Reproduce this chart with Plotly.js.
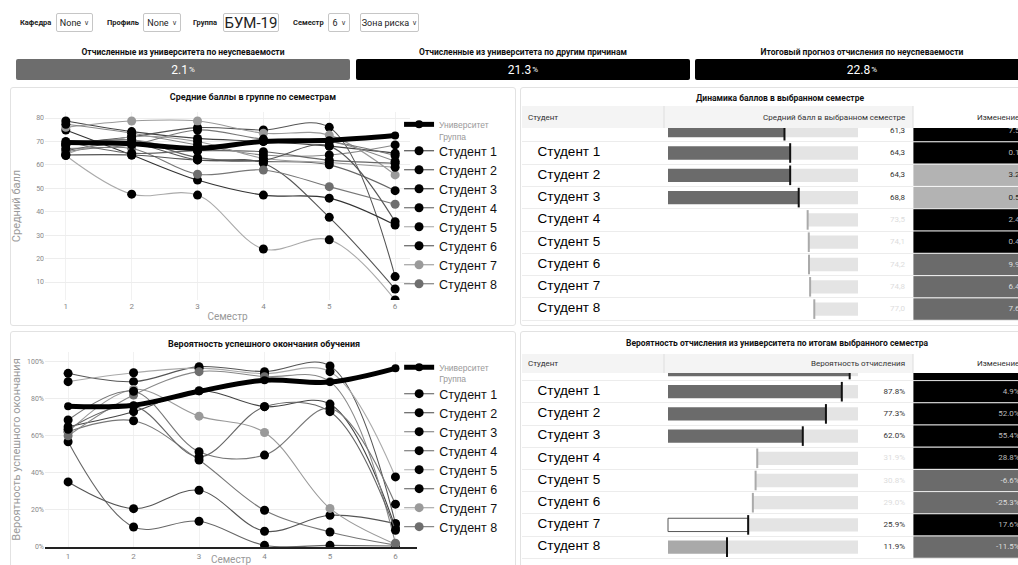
<!DOCTYPE html>
<html><head><meta charset="utf-8">
<script src="https://cdn.plot.ly/plotly-3.0.1.min.js"></script>
<style>
html,body{margin:0;padding:0}
body{width:1018px;height:565px;overflow:hidden;background:#fff;font-family:Roboto,'Liberation Sans',Arial,sans-serif;position:relative}
.abs{position:absolute}
.panel{position:absolute;border:1px solid #e2e2e2;border-radius:3px;background:#fff;box-sizing:border-box}
.lbl{position:absolute;font-size:7.5px;font-weight:bold;color:#222;display:flex;align-items:center;height:19px;top:13px}
.dd{position:absolute;top:13px;height:19px;box-sizing:border-box;border:1px solid #c6c6c6;border-radius:2px;background:#fff;font-size:9px;color:#222;display:flex;align-items:center;justify-content:center;white-space:nowrap}
.car{font-size:7px;margin-left:3px;color:#444}
.kt{position:absolute;top:47px;height:12px;font-size:8.5px;font-weight:bold;color:#111;white-space:nowrap;transform:translateX(-50%)}
.kb{position:absolute;top:59px;height:21px;color:#fff;font-size:12px;display:flex;align-items:center;justify-content:center;border-radius:2px}
.kb small{font-size:8px;margin-left:1px}
.plot{position:absolute}
</style></head><body>

<div class="lbl" style="left:20px">Кафедра</div>
<div class="dd" style="left:56px;width:37px">None<span class="car">&#x2228;</span></div>
<div class="lbl" style="left:107px">Профиль</div>
<div class="dd" style="left:143px;width:38px">None<span class="car">&#x2228;</span></div>
<div class="lbl" style="left:193px">Группа</div>
<div class="dd" style="left:223px;width:56px;font-size:15px">БУМ-19</div>
<div class="lbl" style="left:293px">Семестр</div>
<div class="dd" style="left:328px;width:22px">6<span class="car">&#x2228;</span></div>
<div class="dd" style="left:360px;width:59px">Зона риска<span class="car">&#x2228;</span></div>

<div id="kpis"></div>

<div class="panel" style="left:10px;top:87px;width:506px;height:239px"></div>
<div class="panel" style="left:520px;top:87px;width:520px;height:239px"></div>
<div class="panel" style="left:10px;top:331px;width:506px;height:240px"></div>
<div class="panel" style="left:520px;top:331px;width:520px;height:240px"></div>

<div id="scoreChart" class="plot" style="left:10px;top:87px;width:505px;height:238px"></div>
<div id="probChart" class="plot" style="left:10px;top:333px;width:505px;height:232px"></div>
<div id="scoreTable" class="plot" style="left:522px;top:87px;width:510px;height:238px"></div>
<div id="probTable" class="plot" style="left:522px;top:333px;width:510px;height:232px"></div>

<script>
// ---------------- DATA ----------------
const semesters = [1, 2, 3, 4, 5, 6];
const studentNames = ['Студент 1','Студент 2','Студент 3','Студент 4','Студент 5','Студент 6','Студент 7',
  'Студент 8','Студент 9','Студент 10','Студент 11','Студент 12','Студент 13','Студент 14'];

const kpiTitles = ['Отчисленные из университета по неуспеваемости',
  'Отчисленные из университета по другим причинам',
  'Итоговый прогноз отчисления по неуспеваемости'];
const kpiValues = [2.1, 21.3, 22.8];

// Средний балл по семестрам
const universityScore = [69.5, 69.0, 67.0, 70.0, 70.5, 72.5];
const scoreS1 = [78.7, 74.2, 71.3, 70.0, 68.0, 65.0];
const scoreS2 = [69.0, 72.0, 75.9, 74.9, 76.0, 12.3];
const scoreS3 = [74.9, 64.2, 53.5, 47.1, 45.8, 34.3];
const scoreS4 = [68.5, 70.6, 63.1, 61.5, 60.0, 49.0];
const scoreS5 = [64.0, 47.5, 47.1, 24.1, 28.0, 2.3];
const scoreS6 = [66.0, 69.0, 62.1, 60.7, 37.6, 7.0];
const scoreS7 = [76.0, 78.7, 78.7, 73.5, 72.7, 55.7];
const scoreS8 = [65.6, 67.0, 56.0, 57.8, 50.7, 43.2];
const scoreS9 = [77.3, 73.5, 68.5, 64.2, 64.2, 68.5];
const scoreS10 = [70.0, 65.0, 66.0, 65.6, 62.0, 60.7];
const scoreS11 = [67.0, 68.5, 74.9, 71.0, 70.0, 64.0];
const scoreS12 = [64.5, 72.0, 70.0, 62.8, 61.0, 59.0];
const scoreS13 = [64.2, 64.2, 62.1, 62.0, 68.0, 35.7];
const scoreS14 = [68.5, 70.6, 66.0, 70.0, 70.0, 61.5];

// Вероятность успешного окончания, %
const universityProb = [76.0, 76.5, 84.0, 90.0, 89.0, 96.4];
const probS1 = [93.7, 89.2, 97.3, 94.6, 97.7, 12.6];
const probS2 = [64.9, 73.0, 84.3, 75.7, 77.1, 10.3];
const probS3 = [62.2, 68.1, 46.9, 19.8, 8.1, 1.0];
const probS4 = [56.8, 10.8, 13.9, 0.9, 0.9, 0.5];
const probS5 = [89.2, 94.0, 96.5, 93.5, 94.6, 37.8];
const probS6 = [35.1, 20.7, 30.6, 8.5, 17.1, 12.6];
const probS7 = [62.0, 85.0, 70.6, 61.8, 20.8, 1.5];
const probS8 = [60.0, 82.0, 94.6, 91.9, 89.2, 2.0];
const probS9 = [68.5, 84.0, 51.4, 49.6, 74.8, 23.1];
const probS10 = [63.5, 76.0, 48.6, 75.7, 73.0, 9.0];

// Таблицы (первая строка частично скрыта прокруткой)
const tableStudents = ['', 'Студент 1','Студент 2','Студент 3','Студент 4','Студент 5','Студент 6','Студент 7','Студент 8'];
const semesterAvg = [61.3, 64.3, 64.3, 68.8, 73.5, 74.1, 74.2, 74.8, 77.0];
const semesterAvgChange = [7.5, 0.1, 3.2, 0.5, 2.4, 0.4, 9.9, 6.4, 7.6];
const dropoutProb = [93.0, 87.8, 77.3, 62.0, 31.9, 30.8, 29.0, 25.9, 11.9];
const dropoutProbChange = [3.0, 4.9, 52.0, 55.4, 28.8, -6.6, -25.3, 17.6, -11.5];

// ---------------- STYLE ----------------
const FONT = 'Roboto, "Liberation Sans", Arial, sans-serif';
const NAME_FONT = '"Liberation Sans", Arial, sans-serif';
const kpiColors = ['#6d6d6d', '#000', '#000'];
const kpiBoxes = [[16, 334], [356, 334], [695, 334]];
const scoreLineColors = ['#444','#555','#333','#666','#aaa','#555','#9a9a9a','#777','#888','#666','#777','#999','#555','#888'];
const probLineColors = ['#555','#444','#777','#666','#aaa','#555','#9a9a9a','#888','#777','#666'];
const markerColorOf = i => i === 6 ? '#9a9a9a' : (i === 7 ? '#6e6e6e' : '#000');

const avgBarColors = ['#6b6b6b','#6b6b6b','#6b6b6b','#6b6b6b','#fff','#fff','#fff','#fff','#fff'];
const avgTickColors = ['#111','#111','#111','#111','#aaa','#aaa','#aaa','#aaa','#aaa'];
const avgTextColors = ['#333','#333','#333','#333','#ddd','#ddd','#ddd','#ddd','#ddd'];
const avgCellColors = ['#000','#000','#b3b3b3','#b3b3b3','#000','#000','#6b6b6b','#6b6b6b','#6b6b6b'];
const avgCellText = ['#bbb','#bbb','#222','#222','#bbb','#bbb','#ddd','#ddd','#ddd'];

const probBarColors = ['#6b6b6b','#6b6b6b','#6b6b6b','#6b6b6b','#fff','#fff','#fff','#fff','#a9a9a9'];
const probBarLineW = [0,0,0,0,0,0,0,1,0];
const probTickColors = ['#111','#111','#111','#111','#aaa','#aaa','#aaa','#111','#111'];
const probTextColors = ['#333','#333','#333','#333','#ddd','#ddd','#ddd','#333','#333'];
const probCellColors = ['#000','#000','#000','#000','#000','#6b6b6b','#6b6b6b','#000','#6b6b6b'];
const probCellText = ['#bbb','#bbb','#bbb','#bbb','#bbb','#ddd','#ddd','#bbb','#ddd'];

const CFG = {displayModeBar: false, staticPlot: true};

// ---------------- KPI cards ----------------
(function () {
  const host = document.getElementById('kpis');
  kpiValues.forEach((v, i) => {
    const [l, w] = kpiBoxes[i];
    const t = document.createElement('div');
    t.className = 'kt'; t.style.left = (l + w / 2) + 'px'; t.textContent = kpiTitles[i];
    host.appendChild(t);
    const b = document.createElement('div');
    b.className = 'kb'; b.style.left = l + 'px'; b.style.width = w + 'px'; b.style.background = kpiColors[i];
    b.innerHTML = v.toFixed(1) + '<small>%</small>';
    host.appendChild(b);
  });
})();

// ---------------- Line charts ----------------
function lineChart(divId, series, univ, lineColors, o) {
  const traces = series.map((ys, i) => ({
    type: 'scatter', mode: 'lines+markers', x: semesters, y: ys,
    name: '<span style="font-size:12.5px;color:#111">' + studentNames[i] + '</span>',
    line: {shape: 'spline', width: 1.1, color: lineColors[i]},
    marker: {size: 9, color: markerColorOf(i)},
    showlegend: i < 8, legendrank: 2 + i
  }));
  traces.push({
    type: 'scatter', mode: 'lines+markers', x: semesters, y: univ,
    name: '<span style="font-size:8.5px;color:#999">Университет</span><br><span style="font-size:8.5px;color:#999">Группа</span>',
    line: {shape: 'spline', width: 5, color: '#000'},
    marker: {size: 8, color: '#000'}, legendrank: 1
  });
  const layout = {
    width: o.W, height: o.H, margin: o.margin,
    paper_bgcolor: 'rgba(0,0,0,0)', plot_bgcolor: 'rgba(0,0,0,0)',
    font: {family: FONT, size: 8, color: '#888'},
    hovermode: false,
    title: {text: '<b>' + o.title + '</b>', font: {size: 9, color: '#111', family: FONT},
      xref: 'container', yref: 'container', x: o.titleX, y: o.titleY, xanchor: 'center', yanchor: 'middle'},
    xaxis: {range: o.xRange, tickvals: semesters, showgrid: true, gridcolor: '#f1f1f1', zeroline: false,
      ticks: '', tickfont: {size: 8, color: '#888'},
      showline: !!o.xLine, linecolor: '#222', linewidth: 2,
      title: {text: 'Семестр', font: {size: 10, color: '#999'}, standoff: 2}},
    yaxis: {range: o.yRange, dtick: o.dtick, tick0: 0, ticksuffix: o.suffix || '', showgrid: true, gridcolor: '#ededed',
      zeroline: false, ticks: '', tickfont: {size: 7, color: '#888'},
      title: {text: o.yTitle, font: {size: 11, color: '#9a9a9a'}}},
    legend: {x: o.legX, y: o.legY, xanchor: 'left', yanchor: 'top',
      bgcolor: 'rgba(0,0,0,0)', maxheight: 400,
      font: {size: 9, family: NAME_FONT, color: '#111'}, valign: 'top', tracegroupgap: 0}
  };
  Plotly.newPlot(divId, traces, layout, CFG);
}

lineChart('scoreChart',
  [scoreS1, scoreS2, scoreS3, scoreS4, scoreS5, scoreS6, scoreS7, scoreS8, scoreS9, scoreS10, scoreS11, scoreS12, scoreS13, scoreS14],
  universityScore, scoreLineColors,
  {W: 505, H: 238, margin: {l: 35, r: 102, t: 25, b: 25}, title: 'Средние баллы в группе по семестрам',
   titleX: 0.481, titleY: 0.958, xRange: [0.684, 6.226], yRange: [2.32, 82.56], dtick: 10,
   yTitle: 'Средний балл', legX: 0.970, legY: 1.0});

lineChart('probChart',
  [probS1, probS2, probS3, probS4, probS5, probS6, probS7, probS8, probS9, probS10],
  universityProb, probLineColors,
  {W: 505, H: 232, margin: {l: 35, r: 95, t: 19, b: 18.3}, title: 'Вероятность успешного окончания обучения',
   titleX: 0.503, titleY: 0.953, xRange: [0.647, 6.329], yRange: [0, 105.2], dtick: 20, suffix: '%', xLine: true,
   yTitle: 'Вероятность успешного окончания', legX: 0.952, legY: 0.985});

// ---------------- Tables ----------------
function drawTable(divId, g) {
  const px = x => (x - g.left) / g.W;
  const py = y => (g.top + g.H - y) / g.H;
  const idx = tableStudents.map((_, i) => i);
  const rowAt = y => 1 + (y - g.row1) / g.step;
  const TL = 668, TR = 858;
  const ppu = (TR - TL) / (g.vmax - g.vmin);
  const textX = g.vmax + (905 - TR) / ppu;
  const bw = 13.3 / g.step;
  const shown = (s, i) => (g.hideFirst && i === 0) ? '' : s;
  const traces = [
    {type: 'bar', orientation: 'h', y: idx, x: g.values.map(v => v - g.vmin), base: g.vmin, width: bw,
     marker: {color: g.barColors, line: {color: '#555', width: g.barLineW || 0}}, xaxis: 'x', yaxis: 'y'},
    {type: 'bar', orientation: 'h', y: idx, x: g.values.map(v => g.vmax - v), base: g.values, width: bw,
     marker: {color: '#e4e4e4'}, xaxis: 'x', yaxis: 'y'},
    {type: 'scatter', mode: 'markers', y: idx, x: g.values, xaxis: 'x', yaxis: 'y',
     marker: {symbol: 'line-ns', size: 14, line: {width: 2, color: g.tickColors}}},
    {type: 'scatter', mode: 'text', y: idx, x: idx.map(() => textX), text: g.values.map((v, i) => shown(g.fmt(v), i)),
     textposition: 'middle left', textfont: {size: 8, color: g.textColors, family: FONT}, xaxis: 'x', yaxis: 'y'},
    {type: 'bar', orientation: 'h', y: idx, x: idx.map(() => 1), base: 0, width: 1,
     marker: {color: g.cellColors, line: {color: '#fff', width: 0.8}}, xaxis: 'x2', yaxis: 'y'},
    {type: 'scatter', mode: 'text', y: idx, x: idx.map(() => 0.896), text: g.changes.map((v, i) => shown(g.fmtC(v), i)),
     textposition: 'middle left', textfont: {size: 8, color: g.cellText, family: FONT}, xaxis: 'x2', yaxis: 'y'},
    {type: 'scatter', mode: 'text', y: idx, x: idx.map(() => 0.11), text: tableStudents,
     textposition: 'middle right', textfont: {size: 13.5, color: '#000', family: NAME_FONT}, xaxis: 'x3', yaxis: 'y'}
  ];
  const yTop = g.rowsTop, yBot = g.rowsBottom;
  const layout = {
    width: g.W, height: g.H, margin: {l: 0, r: 0, t: 0, b: 0}, showlegend: false, hovermode: false,
    barmode: 'overlay', paper_bgcolor: 'rgba(0,0,0,0)', plot_bgcolor: 'rgba(0,0,0,0)',
    font: {family: FONT, size: 8, color: '#333'},
    xaxis: {domain: [px(664), px(913)], range: [g.vmin - (TL - 664) / ppu, g.vmax + (913 - TR) / ppu], visible: false},
    xaxis2: {domain: [px(913), 1], range: [0, 1], visible: false, anchor: 'y'},
    xaxis3: {domain: [0, px(664)], range: [0, 1], visible: false, anchor: 'y'},
    yaxis: {domain: [py(yBot), py(yTop)], range: [rowAt(yBot), rowAt(yTop)], tickvals: idx.map(i => i + 0.5),
      showticklabels: false, ticks: '', showgrid: true, gridcolor: '#ececec', zeroline: false, showline: false},
    shapes: [
      {type: 'rect', xref: 'paper', yref: 'paper', x0: 0, x1: px(913), y0: py(g.headTop + g.headH), y1: py(g.headTop),
       fillcolor: '#f4f4f4', line: {width: 0}, layer: 'below'},
      {type: 'line', xref: 'paper', yref: 'paper', x0: px(664), x1: px(664), y0: py(g.headTop + g.headH), y1: py(g.headTop),
       line: {color: '#dedede', width: 1}},
      {type: 'line', xref: 'paper', yref: 'paper', x0: px(913), x1: px(913), y0: py(g.headTop + g.headH), y1: py(g.headTop),
       line: {color: '#dedede', width: 1}}
    ],
    annotations: [
      {text: '<b>' + g.title + '</b>', xref: 'paper', yref: 'paper', x: px(g.titleX), y: py(g.titleY),
       xanchor: 'center', yanchor: 'middle', showarrow: false, font: {size: 8.5, color: '#111'}},
      {text: 'Студент', xref: 'paper', yref: 'paper', x: px(526), y: py(g.headTop + g.headH / 2),
       xanchor: 'left', yanchor: 'middle', showarrow: false, font: {size: 8, color: '#333'}},
      {text: g.colHeader, xref: 'paper', yref: 'paper', x: px(907), y: py(g.headTop + g.headH / 2),
       xanchor: 'right', yanchor: 'middle', showarrow: false, font: {size: 8, color: '#333'}},
      {text: 'Изменение', xref: 'paper', yref: 'paper', x: px(1021), y: py(g.headTop + g.headH / 2),
       xanchor: 'right', yanchor: 'middle', showarrow: false, font: {size: 8, color: '#333'}}
    ]
  };
  Plotly.newPlot(divId, traces, layout, CFG);
}

drawTable('scoreTable', {
  left: 522, top: 87, W: 510, H: 238, row1: 153, step: 22.3, rowsTop: 128, rowsBottom: 322,
  headTop: 106, headH: 22, titleX: 780, titleY: 98,
  title: 'Динамика баллов в выбранном семестре', colHeader: 'Средний балл в выбранном семестре',
  vmin: 0, vmax: 100, values: semesterAvg, barColors: avgBarColors, tickColors: avgTickColors,
  textColors: avgTextColors, cellColors: avgCellColors, cellText: avgCellText, changes: semesterAvgChange,
  fmt: v => v.toFixed(1).replace('.', ','), fmtC: v => v.toFixed(1)
});

drawTable('probTable', {
  left: 522, top: 333, W: 510, H: 232, row1: 391.7, step: 22.2, rowsTop: 373, rowsBottom: 563,
  headTop: 354, headH: 19, titleX: 777, titleY: 343, hideFirst: true,
  title: 'Вероятность отчисления из университета по итогам выбранного семестра', colHeader: 'Вероятность отчисления',
  vmin: -27.1, vmax: 98.5, values: dropoutProb, barColors: probBarColors, barLineW: probBarLineW,
  tickColors: probTickColors, textColors: probTextColors, cellColors: probCellColors, cellText: probCellText,
  changes: dropoutProbChange, fmt: v => v.toFixed(1) + '%', fmtC: v => v.toFixed(1) + '%'
});
</script>
</body></html>
